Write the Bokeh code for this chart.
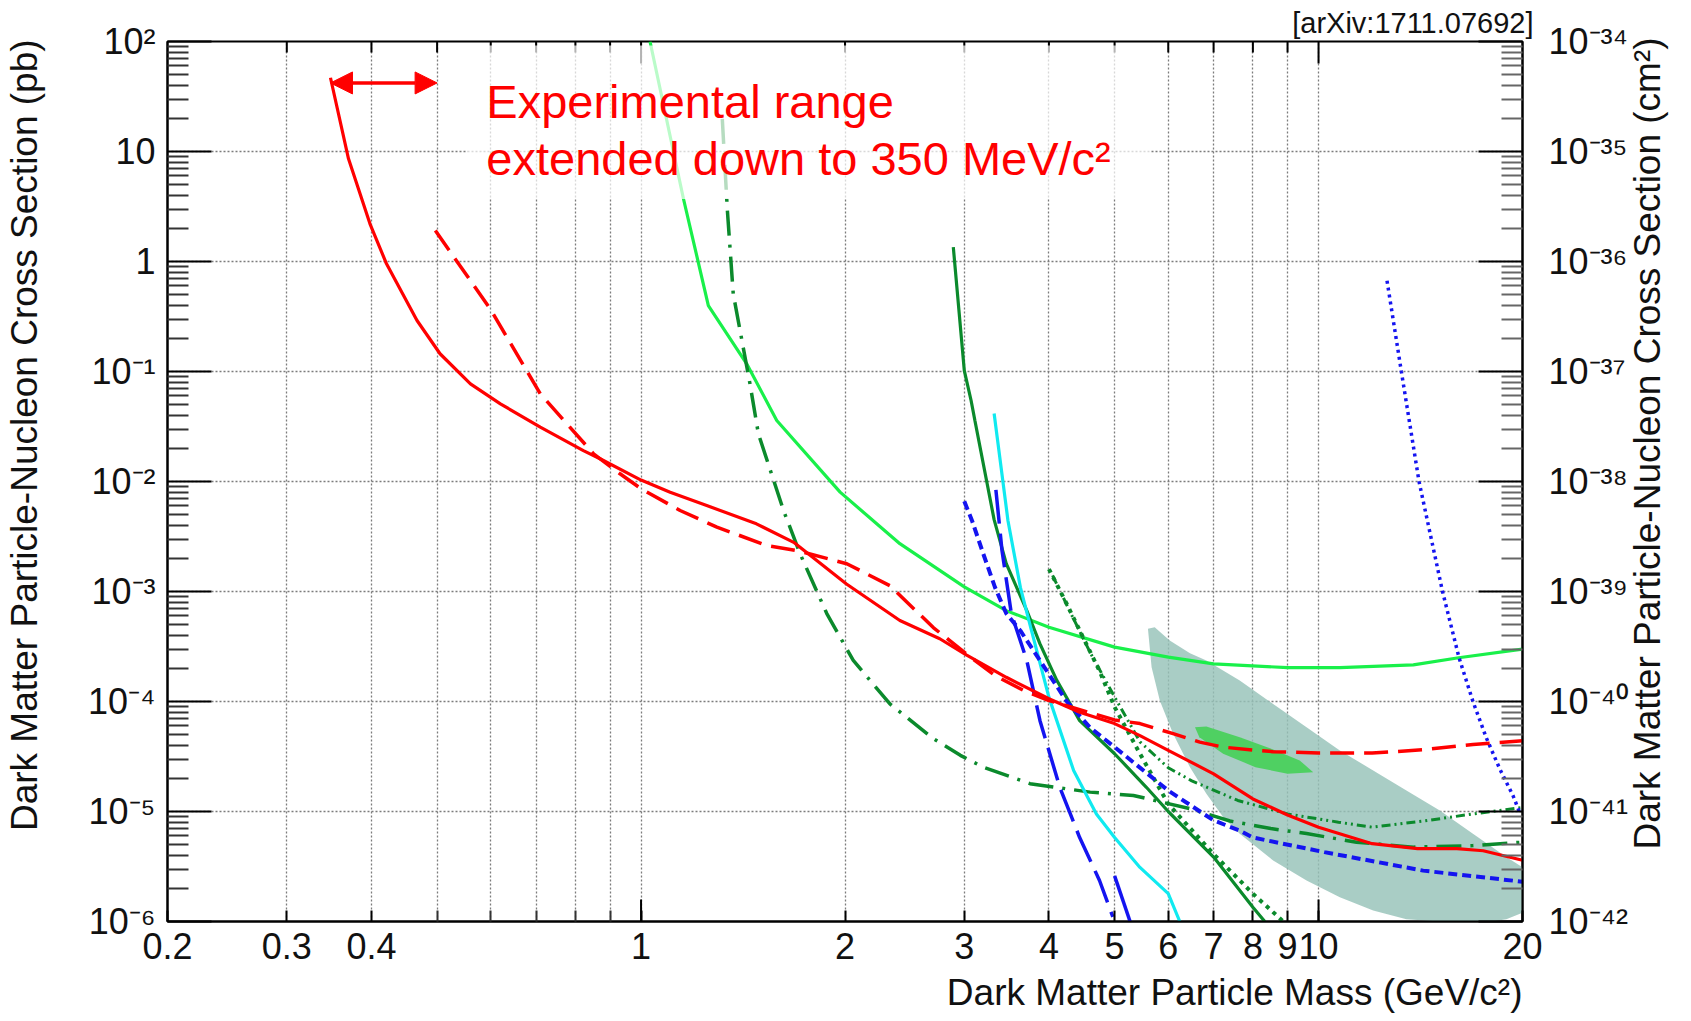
from math import pi
from bokeh.plotting import figure
from bokeh.models import (Range1d, LogScale, LogAxis, FixedTicker, BoxAnnotation, Label, Title,
                          Arrow, NormalHead)
from bokeh.embed import file_html
from bokeh.resources import INLINE

# ---------------- tick values and labels ----------------
X_TICKS = [0.2, 0.3, 0.4, 1, 2, 3, 4, 5, 6, 7, 8, 9, 10, 20]
X_TICK_LABELS = ["0.2", "0.3", "0.4", "1", "2", "3", "4", "5", "6", "7", "8", "9", "10", "20"]
X_MINOR = [0.5, 0.6, 0.7, 0.8, 0.9]
X_LONG = [1, 10]
X_TOP_MINOR = [0.3, 0.4, 0.5, 0.6, 0.7, 0.8, 0.9, 2, 3, 4, 5, 6, 7, 8, 9]
Y_TICKS = [1e2, 1e1, 1.0, 1e-1, 1e-2, 1e-3, 1e-4, 1e-5, 1e-6]
Y_TICK_LABELS = ["10²", "10", "1", "10⁻¹", "10⁻²", "10⁻³", "10⁻⁴", "10⁻⁵", "10⁻⁶"]
R_TICKS = [1e-34, 1e-35, 1e-36, 1e-37, 1e-38, 1e-39, 1e-40, 1e-41, 1e-42]
R_TICK_LABELS = ["10⁻³⁴", "10⁻³⁵", "10⁻³⁶", "10⁻³⁷", "10⁻³⁸", "10⁻³⁹", "10⁻⁴⁰", "10⁻⁴¹", "10⁻⁴²"]

X_TITLE = "Dark Matter Particle Mass (GeV/c²)"
Y_TITLE = "Dark Matter Particle-Nucleon Cross Section (pb)"
R_TITLE = "Dark Matter Particle-Nucleon Cross Section (cm²)"
TAG = "[arXiv:1711.07692]"

# ---------------- series (mass GeV/c^2, cross section pb) ----------------
RED_SOLID_M = [0.348, 0.370, 0.398, 0.421, 0.467, 0.505, 0.560, 0.620, 0.710, 0.822, 0.870, 1.0,
               1.104, 1.25, 1.48, 1.68, 2.01, 2.41, 2.76, 3.02, 3.46, 4.0, 4.44, 5.0, 5.45, 6.0,
               7.0, 8.0, 9.0, 10.0, 12.0, 14.0, 16.0, 17.5, 20.0]
RED_SOLID_XS = [46.8, 8.58, 2.2, 0.953, 0.291, 0.145, 0.0773, 0.0508, 0.0312, 0.0191, 0.0161, 0.0103,
                0.0080, 0.00605, 0.00412, 0.0028, 0.00117, 5.45e-4, 3.72e-4, 2.65e-4, 1.66e-4, 1.06e-4,
                8.0e-5, 6.3e-5, 4.9e-5, 3.6e-5, 2.2e-5, 1.3e-5, 9.3e-6, 7.2e-6, 5.1e-6, 4.6e-6,
                4.6e-6, 4.4e-6, 3.6e-6]

RED_DASH_M = [0.497, 0.599, 0.71, 0.851, 0.931, 1.0, 1.142, 1.294, 1.533, 1.697, 2.012, 2.33, 2.70,
              3.02, 3.33, 3.67, 4.0, 5.0, 5.45, 6.1, 6.68, 7.23, 8.06, 8.57, 10.0, 12.0, 14.27, 16.9, 20.0]
RED_DASH_XS = [1.91, 0.371, 0.0627, 0.01786, 0.01175, 0.0086, 0.00545, 0.00385, 0.00262, 0.00236,
               0.00179, 0.00113, 4.7e-4, 2.71e-4, 1.72e-4, 1.26e-4, 1.02e-4, 6.8e-5, 6.3e-5, 5.1e-5,
               4.27e-5, 3.85e-5, 3.6e-5, 3.5e-5, 3.4e-5, 3.4e-5, 3.64e-5, 4.07e-5, 4.4e-5]

LGREEN_M = [1.031, 1.155, 1.257, 1.432, 1.586, 1.967, 2.41, 3.0, 3.46, 4.0, 5.0, 6.0, 7.0, 9.0,
            10.75, 13.8, 16.1, 20.0]
LGREEN_XS = [100, 3.72, 0.398, 0.1175, 0.0359, 0.008, 2.72e-3, 1.1e-3, 6.7e-4, 4.74e-4, 3.12e-4,
             2.53e-4, 2.2e-4, 2.03e-4, 2.03e-4, 2.15e-4, 2.5e-4, 2.99e-4]

DGREEN_DASHDOT_M = [1.318, 1.341, 1.368, 1.448, 1.49, 1.623, 1.717, 1.88, 2.057, 2.33, 2.70, 2.96,
                    3.2, 3.75, 4.6, 5.33, 6.46, 7.4, 8.5, 9.6, 11.38, 13.8, 16.9, 20.0]
DGREEN_DASHDOT_XS = [19.8, 2.9, 0.508, 0.0773, 0.0271, 0.00545, 2.2e-3, 6.3e-4, 2.36e-4, 9.5e-5,
                     4.6e-5, 3.24e-5, 2.53e-5, 1.79e-5, 1.5e-5, 1.4e-5, 1.06e-5, 8.2e-6, 7.0e-6,
                     6.3e-6, 5.26e-6, 4.74e-6, 4.9e-6, 5.26e-6]

DGREEN_SOLID_M = [2.89, 3.0, 3.07, 3.11, 3.32, 3.46, 3.71, 3.88, 4.11, 4.44, 5.0, 5.57, 6.0, 7.0, 8.0, 8.33]
DGREEN_SOLID_XS = [1.35, 0.102, 0.0545, 0.0359, 4.5e-3, 1.79e-3, 6.7e-4, 3.34e-4, 1.55e-4, 6.7e-5,
                   3.35e-5, 1.66e-5, 1.0e-5, 3.85e-6, 1.35e-6, 1.0e-6]

CYAN_M = [3.32, 3.48, 3.63, 3.77, 4.0, 4.35, 4.7, 5.0, 5.45, 6.0, 6.24]
CYAN_XS = [0.0415, 4.4e-3, 1.09e-3, 4.4e-4, 1.09e-4, 2.36e-5, 9.5e-6, 5.8e-6, 3.1e-6, 1.79e-6, 1.0e-6]

BLUE_LONGDASH_M = [3.34, 3.41, 3.52, 3.71, 3.88, 4.15, 4.44, 4.75, 4.97]
BLUE_LONGDASH_XS = [8.4e-3, 2.36e-3, 6.3e-4, 2.36e-4, 6.7e-5, 1.66e-5, 5.8e-6, 2.36e-6, 1.1e-6]
BLUE_LONGDASH2_M = [5.0, 5.27]
BLUE_LONGDASH2_XS = [2.6e-6, 1.0e-6]

BLUE_SHORTDASH_M = [3.0, 3.08, 3.2, 3.33, 3.46, 3.63, 3.88, 4.25, 4.6, 5.0, 6.0, 7.0, 7.65, 8.0,
                    10.2, 14.27, 20.0]
BLUE_SHORTDASH_XS = [6.6e-3, 4.4e-3, 2.2e-3, 1.09e-3, 6.3e-4, 4.4e-4, 2.36e-4, 1.0e-4, 5.8e-5,
                     3.85e-5, 1.55e-5, 8.3e-6, 6.7e-6, 5.8e-6, 4.27e-6, 2.9e-6, 2.3e-6]

GREEN_DOT_M = [4.0, 4.25, 4.49, 4.75, 5.0, 5.45, 6.0, 7.0, 8.0, 8.87]
GREEN_DOT_XS = [1.6e-3, 7.7e-4, 3.85e-4, 1.9e-4, 8.9e-5, 3.35e-5, 1.17e-5, 4.1e-6, 1.79e-6, 1.0e-6]

GREEN_DDD_M = [4.05, 4.3, 4.6, 5.0, 5.45, 6.0, 6.5, 7.6, 9.0, 10.7, 12.0, 14.3, 16.9, 20.0]
GREEN_DDD_XS = [1.4e-3, 6.5e-4, 2.8e-4, 1.1e-4, 4.3e-5, 2.5e-5, 1.9e-5, 1.26e-5, 9.5e-6, 8.0e-6,
                7.2e-6, 8.2e-6, 9.5e-6, 1.09e-5]

BLUE_DOT_M = [12.62, 13.25, 14.07, 15.24, 16.12, 16.9, 17.69, 18.5, 19.36, 19.85]
BLUE_DOT_XS = [0.669, 0.1, 0.01, 1e-3, 2.5e-4, 1e-4, 4.66e-5, 2.46e-5, 1.4e-5, 9.5e-6]

REGION_M = [5.60, 5.73, 6.03, 6.46, 6.83, 7.65, 8.57, 9.60, 10.75, 12.04, 13.48, 15.1, 16.9, 18.93,
            20.0, 20.0, 18.93, 18.0, 15.1, 13.48, 12.04, 10.75, 9.6, 8.57, 7.65, 7.23, 6.83, 6.46,
            6.10, 5.83, 5.67, 5.60]
REGION_XS = [4.58e-4, 4.73e-4, 3.59e-4, 2.75e-4, 2.36e-4, 1.55e-4, 9.5e-5, 5.83e-5, 3.59e-5,
             2.36e-5, 1.55e-5, 1.02e-5, 6.27e-6, 3.85e-6, 3.12e-6, 1.2e-6, 1.05e-6, 1.0e-6, 1.0e-6,
             1.05e-6, 1.26e-6, 1.66e-6, 2.36e-6, 3.59e-6, 6.27e-6, 8.9e-6, 1.45e-5, 2.53e-5,
             5.1e-5, 1.02e-4, 2.05e-4, 4.58e-4]

ELLIPSE_M = [6.57, 6.83, 7.65, 8.57, 9.38, 9.82, 9.0, 8.07, 7.23, 6.67]
ELLIPSE_XS = [5.83e-5, 5.93e-5, 4.74e-5, 3.66e-5, 2.91e-5, 2.28e-5, 2.2e-5, 2.53e-5, 3.35e-5, 4.74e-5]

ARROW_M = [0.348, 0.5]
ARROW_XS = 42.0
NOTE_LINES = ["Experimental range", "extended down to 350 MeV/c²"]
NOTE_M = 0.591
NOTE_XS = [19.8, 6.05]
NOTE_BOX = dict(left=0.554, right=5.64, bottom=3.7, top=92)

FONT = "Liberation Sans"
INK = "#111111"
NBSP = "\u00a0"

p = figure(width=1691, height=1021, x_axis_type="log", y_axis_type="log",
           x_range=Range1d(0.2, 20), y_range=Range1d(1e-6, 100),
           output_backend="svg", toolbar_location=None,
           min_border_left=167, min_border_right=168, min_border_top=41, min_border_bottom=100)
p.background_fill_color = "white"
p.border_fill_color = "white"
p.outline_line_color = "black"
p.outline_line_width = 2

# reference tag as the title, right aligned above the frame
p.title.text = TAG
p.title.align = "right"
p.title.text_font = FONT
p.title.text_font_size = "29px"
p.title.text_font_style = "normal"
p.title.text_color = INK
p.title.standoff = 6
p.title.offset = -11

y_minor = [k * 10.0 ** d for d in range(-6, 2) for k in range(2, 10)]
r_minor = [k * 10.0 ** d for d in range(-42, -34) for k in range(2, 10)]
x_ticker = FixedTicker(ticks=X_TICKS, minor_ticks=X_MINOR)
y_ticker = FixedTicker(ticks=Y_TICKS, minor_ticks=y_minor)

# grids
GRID = dict(color="#7c7c7c", dash="2 2", width=1.3)
xg = p.xgrid[0]
xg.ticker = x_ticker
xg.grid_line_color = GRID["color"]; xg.grid_line_dash = GRID["dash"]; xg.grid_line_width = GRID["width"]
xg.minor_grid_line_color = GRID["color"]; xg.minor_grid_line_dash = GRID["dash"]; xg.minor_grid_line_width = GRID["width"]
yg = p.ygrid[0]
yg.ticker = y_ticker
yg.grid_line_color = GRID["color"]; yg.grid_line_dash = GRID["dash"]; yg.grid_line_width = GRID["width"]
yg.minor_grid_line_color = None


def style_axis(ax, major_in, minor_in, standoff, font_size="36px", minor_color="#333333"):
    ax.axis_line_color = "black"
    ax.axis_line_width = 2
    ax.major_tick_in = major_in
    ax.major_tick_out = 0
    ax.minor_tick_in = minor_in
    ax.minor_tick_out = 0
    ax.major_tick_line_color = "black"
    ax.major_tick_line_width = 2
    ax.minor_tick_line_color = minor_color
    ax.minor_tick_line_width = 2
    ax.major_label_standoff = standoff
    ax.major_label_text_font = FONT
    ax.major_label_text_font_size = font_size
    ax.major_label_text_color = INK


def style_title(ax, text, standoff):
    ax.axis_label = text
    ax.axis_label_text_font = FONT
    ax.axis_label_text_font_size = "37px"
    ax.axis_label_text_font_style = "normal"
    ax.axis_label_text_color = INK
    ax.axis_label_standoff = standoff


bx = p.xaxis[0]
bx.ticker = x_ticker
bx.major_label_overrides = dict(zip(X_TICKS, X_TICK_LABELS))
style_axis(bx, 11, 11, 11)
p.add_layout(Title(text=X_TITLE, align="right", vertical_align="bottom", standoff=16,
                   text_font=FONT, text_font_size="37px", text_font_style="normal",
                   text_color=INK), "below")

ly = p.yaxis[0]
ly.ticker = y_ticker
ly.major_label_overrides = dict(zip(Y_TICKS, Y_TICK_LABELS))
style_axis(ly, 44, 21, 12)
# non-breaking spaces at the start push the centred title towards the top end of the axis
style_title(ly, NBSP * 9 + Y_TITLE, 40)

p.extra_y_ranges = {"cm2": Range1d(1e-42, 1e-34)}
p.extra_y_scales = {"cm2": LogScale()}
ry = LogAxis(y_range_name="cm2", ticker=FixedTicker(ticks=R_TICKS, minor_ticks=r_minor))
ry.major_label_overrides = dict(zip(R_TICKS, R_TICK_LABELS))
style_axis(ry, 44, 21, 26, minor_color="#666666")
# title reads upwards from the lower end of the axis, lifted a little by leading spaces
style_title(ry, NBSP * 7 + R_TITLE, 15)
ry.axis_label_orientation = pi / 2
if "axis_label_align" in ry.properties():
    ry.axis_label_align = "start"
p.add_layout(ry, "right")

# tick marks on the upper frame edge and long decade ticks on the lower one
p.ray(x=X_LONG, y=[100] * len(X_LONG), length=22, length_units="screen",
      angle=-pi / 2, line_color="black", line_width=2)
p.ray(x=X_TOP_MINOR, y=[100] * len(X_TOP_MINOR), length=11, length_units="screen",
      angle=-pi / 2, line_color="black", line_width=2)
p.ray(x=X_LONG, y=[1e-6] * len(X_LONG), length=22, length_units="screen",
      angle=pi / 2, line_color="black", line_width=2)

# ---------------- glyphs ----------------
p.patch(REGION_M, REGION_XS, fill_color="#96c2b8", fill_alpha=0.82, line_color=None)
p.patch(ELLIPSE_M, ELLIPSE_XS, fill_color="#4fd062", fill_alpha=1.0, line_color=None)

RED = "#ff0000"
LGREEN = "#19f04a"
DGREEN = "#0b8a2c"
CYAN = "#10eaf0"
BLUE = "#1414f0"

p.line(LGREEN_M, LGREEN_XS, line_color=LGREEN, line_width=3.2)
p.line(DGREEN_DASHDOT_M, DGREEN_DASHDOT_XS, line_color=DGREEN, line_width=3.5, line_dash="25 9 3 9")
p.line(DGREEN_SOLID_M, DGREEN_SOLID_XS, line_color=DGREEN, line_width=3.2)
p.line(GREEN_DOT_M, GREEN_DOT_XS, line_color=DGREEN, line_width=4, line_dash="4 5")
p.line(GREEN_DDD_M, GREEN_DDD_XS, line_color=DGREEN, line_width=3, line_dash="9 4 2 4 2 4")
p.line(CYAN_M, CYAN_XS, line_color=CYAN, line_width=3.2)
p.line(BLUE_LONGDASH_M, BLUE_LONGDASH_XS, line_color=BLUE, line_width=3.5, line_dash="34 10")
p.line(BLUE_LONGDASH2_M, BLUE_LONGDASH2_XS, line_color=BLUE, line_width=3.5)
p.line(BLUE_SHORTDASH_M, BLUE_SHORTDASH_XS, line_color=BLUE, line_width=4, line_dash="9 5")
p.line(BLUE_DOT_M, BLUE_DOT_XS, line_color=BLUE, line_width=3.5, line_dash="3 4")
p.line(RED_DASH_M, RED_DASH_XS, line_color=RED, line_width=3.5, line_dash="24 10")
p.line(RED_SOLID_M, RED_SOLID_XS, line_color=RED, line_width=3.2)

# ---------------- annotations ----------------
p.add_layout(BoxAnnotation(fill_color="white", fill_alpha=0.7, line_color=None, **NOTE_BOX))
for txt, yv in zip(NOTE_LINES, NOTE_XS):
    p.add_layout(Label(x=NOTE_M, y=yv, y_offset=17, text=txt, text_font=FONT, text_font_size="47px",
                       text_color=RED, text_align="left", text_baseline="alphabetic"))
p.add_layout(Arrow(start=NormalHead(size=22, fill_color=RED, line_color=RED),
                   end=NormalHead(size=22, fill_color=RED, line_color=RED),
                   x_start=ARROW_M[0], y_start=ARROW_XS, x_end=ARROW_M[1], y_end=ARROW_XS,
                   line_color=RED, line_width=3.5))

open("out.html", "w").write(file_html(p, INLINE))
